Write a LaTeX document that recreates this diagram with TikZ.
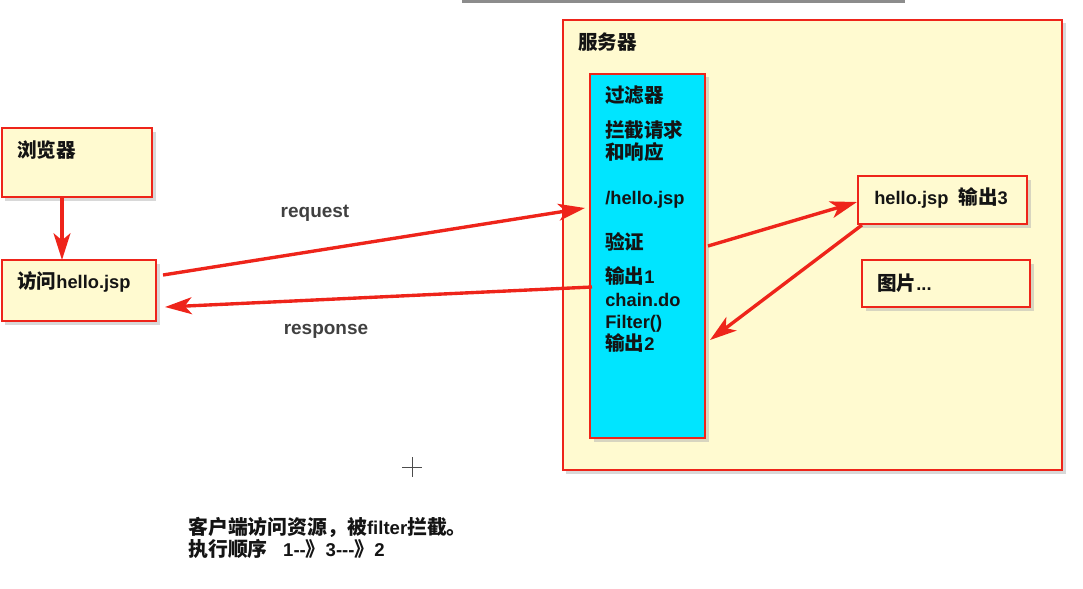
\documentclass[tikz,border=0pt]{standalone}
\usepackage{fontspec}
\setmainfont{Liberation Sans}
\newfontfamily\cjk{Noto Sans CJK SC}[Scale=1.07]
\newcommand{\zh}[1]{{\cjk #1}}
\newcommand{\hy}{\mbox{-}}
\usetikzlibrary{arrows.meta,shadows,positioning}
\definecolor{srvyellow}{RGB}{255,250,208}
\definecolor{fltcyan}{RGB}{0,229,255}
\definecolor{boxred}{RGB}{238,36,26}
\definecolor{txtdark}{RGB}{20,20,20}
\tikzset{
  box/.style={rectangle, draw=boxred, line width=2pt, fill=srvyellow, inner sep=0pt, outer sep=0pt,
    drop shadow={shadow xshift=2.5pt, shadow yshift=-2.5pt, fill=black!30}},
  lbl/.style={anchor=base west, inner sep=0pt, text=txtdark, font=\fontsize{13}{15.6}\selectfont\bfseries},
  flow/.style={line width=2.4pt, draw=boxred, -{Stealth[length=19pt,width=12pt,inset=5pt]}},
  msg/.style={font=\fontsize{13.5}{15}\selectfont\bfseries, text=black!75},
}

\begin{document}
\begin{tikzpicture}[x=0.025cm, y=-0.025cm]
\useasboundingbox (0,0) rectangle (1083,588);
% edge of a box cut off at the top
\fill[black!45] (462,0) rectangle (905,2.5);

% boxes
\node[box, minimum width=3.75cm, minimum height=1.725cm] (browser) at (77,162.5) {};
\node[box, minimum width=3.85cm, minimum height=1.525cm] (visit) at (79,290.5) {};
\node[box, minimum width=12.475cm, minimum height=11.25cm] (server) at (812.5,245) {};
\node[box, fill=fltcyan, minimum width=2.875cm, minimum height=9.1cm] (filter) at (647.5,256) {};
\node[box, minimum width=4.225cm, minimum height=1.2cm] (out3) at (942.5,200) {};
\node[box, minimum width=4.2cm, minimum height=1.175cm] (pic) at (946,283.5) {};

% labels
\node[lbl] (browserlbl) at (17,157) {\zh{浏览器}};
\node[lbl] (visitlbl) at (17,288) {\zh{访问}hello.jsp};
\node[lbl] (serverlbl) at (578,49) {\zh{服务器}};
\node[lbl] (out3lbl) at (874,204) {hello.jsp\ \ \zh{输出}3};
\node[lbl] (piclbl) at (877,290) {\zh{图片}...};

% filter text
\foreach \ty/\tx [count=\i] in {95/\zh{过滤器}, 130/\zh{拦截请求}, 152/\zh{和响应}, 197/{/hello.jsp},
    242/\zh{验证}, 276/{\zh{输出}1}, 299/chain.do, 321/Filter(), 343/{\zh{输出}2}}
  \node[lbl] (flt\i) at (605,\ty+7) {\tx};

% connectors
\draw[flow] ([xshift=-0.375cm]browser.south) -- ([xshift=-0.375cm]browser.south |- visit.north);
\draw[flow] ([shift={(7,-15.5)}]visit.east) -- ([shift={(-5,-48)}]filter.west);
\draw[flow] ([shift={(2,31)}]filter.west) -- ([shift={(9,16.5)}]visit.east);
\draw[flow] ([shift={(3,-10)}]filter.east) -- ([shift={(-1,2)}]out3.west);
\draw[flow] ([shift={(4,1)}]out3.south west) -- ([shift={(5,84)}]filter.east);

\node[msg] (reqlbl) at (315,213) {request};
\node[msg] (resplbl) at (326,331) {response};

% note at the bottom
\node[lbl, font=\fontsize{13.2}{15}\selectfont\bfseries] (note1) at (188,534) {\zh{客户端访问资源，被}filter\zh{拦截。}};
\node[lbl, font=\fontsize{13.2}{15}\selectfont\bfseries] (note2) at (188,556) {\zh{执行顺序}\ \ \ 1\hy\hy\zh{》}3\hy\hy\hy\zh{》}2};

% cursor
\draw[black!70, line width=0.6pt] (402,467) -- (422,467) (412,457) -- (412,477);
\end{tikzpicture}
\end{document}
